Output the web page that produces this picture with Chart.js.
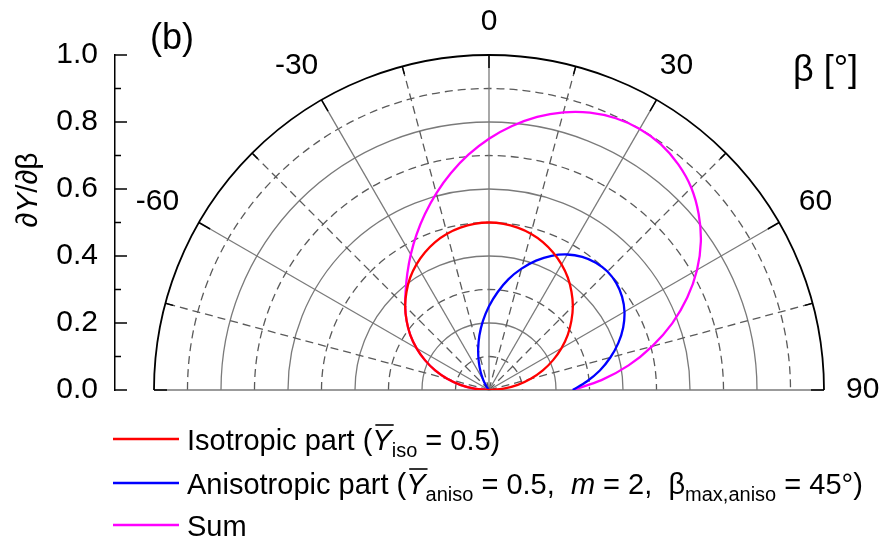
<!DOCTYPE html>
<html>
<head>
<meta charset="utf-8">
<script src="https://cdn.jsdelivr.net/npm/chart.js@4.4.0/dist/chart.umd.min.js"></script>
<style>
  html, body { margin: 0; padding: 0; background: #fff; }
</style>
</head>
<body>
<canvas id="polar" width="879" height="538"></canvas>
<script>
// emission angle beta in degrees, 0 = surface normal (straight up)
var beta = [-90,-85,-80,-75,-70,-65,-60,-55,-50,-45,-40,-35,-30,-25,-20,-15,-10,-5,
            0,5,10,15,20,25,30,35,40,45,50,55,60,65,70,75,80,85,90];

// dY/dbeta, read along each 5 degree ray
var isoPart = [0,0.044,0.087,0.129,0.171,0.211,0.25,0.287,0.321,0.354,0.383,0.41,0.433,0.453,0.47,0.483,0.492,0.498,
               0.5,0.498,0.492,0.483,0.47,0.453,0.433,0.41,0.383,0.354,0.321,0.287,0.25,0.211,0.171,0.129,0.087,0.044,0];
var anisoPart = [0,0,0,0,0,0,0,0,0,0,0.004,0.015,0.034,0.059,0.089,0.125,0.165,0.207,
                 0.25,0.293,0.336,0.375,0.411,0.442,0.467,0.485,0.496,0.5,0.496,0.485,0.467,0.442,0.411,0.375,0.336,0.293,0.25];
var sumPart = [0,0.044,0.087,0.129,0.171,0.211,0.25,0.287,0.321,0.354,0.387,0.425,0.467,0.512,0.559,0.608,0.657,0.705,
               0.75,0.791,0.828,0.858,0.881,0.895,0.9,0.895,0.879,0.854,0.817,0.772,0.717,0.653,0.582,0.504,0.423,0.337,0.25];

var angleLabels = [-60, -30, 0, 30, 60, 90];
var solidRings = [0.2, 0.4, 0.6, 0.8];
var dashedRings = [0.1, 0.3, 0.5, 0.7, 0.9];
var solidSpokes = [-90, -60, -30, 0, 30, 60, 90];
var dashedSpokes = [-75, -45, -15, 15, 45, 75];

var FONT = '"Liberation Sans", Arial, Helvetica, sans-serif';
var axisGap = 0.1164; // room between the r axis and the half circle, in r units

function rad(d){ return d * Math.PI / 180; }

function toXY(r){
  return beta.map(function(b, i){
    return { x: r[i] * Math.sin(rad(b)), y: r[i] * Math.cos(rad(b)) };
  });
}

function curve(label, r, color){
  return {
    label: label,
    data: toXY(r),
    showLine: true,
    borderColor: color,
    backgroundColor: color,
    borderWidth: 2.3,
    pointRadius: 0,
    tension: 0.3,
    fill: false
  };
}

// draws a row of text pieces, with italics, overlines and subscripts
function drawRuns(ctx, x, y, runs, size){
  runs.forEach(function(run){
    var s = run.sub ? Math.round(size * 0.68) : size;
    ctx.font = (run.it ? 'italic ' : '') + s + 'px ' + FONT;
    var w = ctx.measureText(run.t).width;
    ctx.fillText(run.t, x, y + (run.sub ? 7 : 0));
    if (run.over) {
      ctx.beginPath();
      ctx.lineWidth = 1.6;
      ctx.moveTo(x + 3, y - 25);
      ctx.lineTo(x + w + 2, y - 25);
      ctx.stroke();
    }
    x += w;
  });
  return x;
}

var polarGrid = {
  id: 'polarGrid',
  beforeDatasetsDraw: function(chart){
    var ctx = chart.ctx, xs = chart.scales.x, ys = chart.scales.y;
    var cx = xs.getPixelForValue(0), cy = ys.getPixelForValue(0);
    var R = function(r){ return xs.getPixelForValue(r) - cx; };
    var pt = function(r, b){
      return [xs.getPixelForValue(r * Math.sin(rad(b))), ys.getPixelForValue(r * Math.cos(rad(b)))];
    };
    ctx.save();
    // rings
    ctx.strokeStyle = '#7a7a7a';
    ctx.lineWidth = 1.3;
    solidRings.forEach(function(r){
      ctx.beginPath(); ctx.arc(cx, cy, R(r), Math.PI, 2 * Math.PI); ctx.stroke();
    });
    ctx.strokeStyle = '#5a5a5a';
    ctx.setLineDash([8, 5]);
    dashedRings.forEach(function(r){
      ctx.beginPath(); ctx.arc(cx, cy, R(r), Math.PI, 2 * Math.PI); ctx.stroke();
    });
    // spokes
    dashedSpokes.forEach(function(b){
      var p = pt(1, b);
      ctx.beginPath(); ctx.moveTo(cx, cy); ctx.lineTo(p[0], p[1]); ctx.stroke();
    });
    ctx.setLineDash([]);
    ctx.strokeStyle = '#7a7a7a';
    solidSpokes.forEach(function(b){
      var p = pt(1, b);
      ctx.beginPath(); ctx.moveTo(cx, cy); ctx.lineTo(p[0], p[1]); ctx.stroke();
    });
    // outer rim with inward ticks
    ctx.strokeStyle = '#000';
    ctx.lineWidth = 1.8;
    ctx.beginPath(); ctx.arc(cx, cy, R(1), Math.PI, 2 * Math.PI); ctx.stroke();
    ctx.lineWidth = 1.5;
    for (var b = -90; b <= 90; b += 15) {
      var len = (b % 30 === 0) ? 13 : 8;
      var p0 = pt(1, b), p1 = pt(1 - len / R(1), b);
      ctx.beginPath(); ctx.moveTo(p0[0], p0[1]); ctx.lineTo(p1[0], p1[1]); ctx.stroke();
    }
    // ticks on the r axis, pointing into the plot
    var ax = chart.chartArea.left;
    ctx.lineWidth = 1.5;
    for (var i = 0; i <= 10; i++) {
      var yy = ys.getPixelForValue(i / 10);
      ctx.beginPath(); ctx.moveTo(ax, yy); ctx.lineTo(ax + (i % 2 ? 6 : 12), yy); ctx.stroke();
    }
    ctx.restore();
  },
  afterDraw: function(chart){
    var ctx = chart.ctx, xs = chart.scales.x, ys = chart.scales.y;
    var cx = xs.getPixelForValue(0), cy = ys.getPixelForValue(0);
    var rim = xs.getPixelForValue(1) - cx;
    ctx.save();
    ctx.fillStyle = '#000';
    ctx.strokeStyle = '#000';
    // angle labels around the rim; the digits are centred, a minus sign hangs to the left
    ctx.font = '30px ' + FONT;
    ctx.textAlign = 'right';
    ctx.textBaseline = 'middle';
    angleLabels.forEach(function(b){
      var w = ctx.measureText(String(Math.abs(b))).width;
      var s = Math.abs(Math.sin(rad(b))), c = Math.abs(Math.cos(rad(b)));
      var d = rim + 22 + s * w / 2 + c * 11;
      var lx = cx + d * Math.sin(rad(b)), ly = cy - d * Math.cos(rad(b));
      ctx.fillText(String(b), lx + w / 2, ly);
    });
    ctx.textAlign = 'center';
    ctx.font = '36px ' + FONT;
    ctx.fillText('(b)', 172, 39);
    ctx.textAlign = 'left';
    ctx.fillText('\u03b2 [\u00b0]', 793, 71);

    // r axis title, rotated
    ctx.save();
    ctx.translate(29, 190);
    ctx.rotate(-Math.PI / 2);
    ctx.textBaseline = 'middle';
    var title = [{t: '\u2202'}, {t: 'Y', it: true}, {t: '/\u2202\u03b2'}];
    var tw = 0;
    title.forEach(function(run){
      ctx.font = (run.it ? 'italic ' : '') + '30px ' + FONT;
      tw += ctx.measureText(run.t).width;
    });
    drawRuns(ctx, -tw / 2, 0, title, 30);
    ctx.restore();

    // legend
    ctx.textBaseline = 'alphabetic';
    var rows = [
      { color: '#ff0000', y: 439, runs: [{t: 'Isotropic part ('}, {t: 'Y', it: true, over: true}, {t: 'iso', sub: true}, {t: ' = 0.5)'}] },
      { color: '#0000ff', y: 483, runs: [{t: 'Anisotropic part ('}, {t: 'Y', it: true, over: true}, {t: 'aniso', sub: true},
                                         {t: ' = 0.5,  '}, {t: 'm', it: true}, {t: ' = 2,  \u03b2'}, {t: 'max,aniso', sub: true}, {t: ' = 45\u00b0)'}] },
      { color: '#ff00ff', y: 525, runs: [{t: 'Sum'}] }
    ];
    rows.forEach(function(row){
      ctx.strokeStyle = row.color;
      ctx.lineWidth = 2.3;
      ctx.beginPath(); ctx.moveTo(113, row.y); ctx.lineTo(179, row.y); ctx.stroke();
      ctx.strokeStyle = '#000';
      drawRuns(ctx, 187, row.y + 11, row.runs, 29);
    });
    ctx.restore();
  }
};

new Chart(document.getElementById('polar'), {
  type: 'scatter',
  data: {
    datasets: [
      curve('Isotropic part', isoPart, '#ff0000'),
      curve('Anisotropic part', anisoPart, '#0000ff'),
      curve('Sum', sumPart, '#ff00ff')
    ]
  },
  options: {
    responsive: false,
    animation: false,
    layout: { padding: { top: 55, right: 55, bottom: 148, left: 0 } },
    plugins: { legend: { display: false }, tooltip: { enabled: false } },
    scales: {
      x: { type: 'linear', min: -1 - axisGap, max: 1, display: false },
      y: {
        type: 'linear', min: 0, max: 1, position: 'left',
        afterFit: function(scale){ scale.width = 115; },
        border: { display: true, color: '#000', width: 1.5 },
        grid: { drawOnChartArea: false, drawTicks: false },
        ticks: {
          stepSize: 0.2, padding: 17, color: '#000',
          font: { family: FONT, size: 30 },
          callback: function(v){ return v.toFixed(1); }
        }
      }
    }
  },
  plugins: [polarGrid]
});
</script>
</body>
</html>
